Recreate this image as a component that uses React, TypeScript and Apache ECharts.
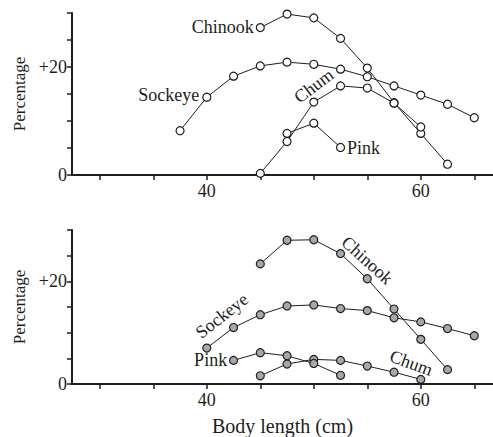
import React, { useEffect, useRef } from 'react';
import * as echarts from 'echarts';

// ---- Upper panel data (open circles) ----
const upChinookX = [45, 47.5, 50, 52.5, 55, 57.5, 60, 62.5];
const upChinookY = [27.3, 29.8, 29.1, 25.3, 19.8, 13.4, 7.7, 2.0];
const upSockeyeX = [37.5, 40, 42.5, 45, 47.5, 50, 52.5, 55, 57.5, 60, 62.5, 65];
const upSockeyeY = [8.2, 14.4, 18.3, 20.2, 20.9, 20.5, 19.6, 18.2, 16.5, 14.8, 13.1, 10.6];
const upChumX = [45, 47.5, 50, 52.5, 55, 57.5, 60];
const upChumY = [0.3, 6.2, 13.5, 16.5, 16.1, 13.3, 8.9];
const upPinkX = [47.5, 50, 52.5];
const upPinkY = [7.7, 9.6, 5.1];

// ---- Lower panel data (shaded circles) ----
const loChinookX = [45, 47.5, 50, 52.5, 55, 57.5, 60, 62.5];
const loChinookY = [23.4, 28.0, 28.1, 25.4, 20.5, 14.6, 8.7, 2.8];
const loSockeyeX = [40, 42.5, 45, 47.5, 50, 52.5, 55, 57.5, 60, 62.5, 65];
const loSockeyeY = [7.0, 11.0, 13.5, 15.2, 15.4, 14.7, 14.3, 12.9, 12.1, 10.8, 9.4];
const loPinkX = [42.5, 45, 47.5, 50, 52.5];
const loPinkY = [4.6, 6.1, 5.5, 4.0, 1.7];
const loChumX = [45, 47.5, 50, 52.5, 55, 57.5, 60];
const loChumY = [1.6, 3.9, 4.8, 4.6, 3.5, 2.3, 0.9];

// ---- Axes ----
const xTickValues = [30, 35, 40, 45, 50, 55, 60, 65];
const xLabelValues = [40, 60];
const yTickValues = [0, 5, 10, 15, 20, 25, 30];
const yLabelValues = [0, 20];
const yLabelText = ['0', '+20'];

// ---- Annotations: [x, y, text, rotate, align] ----
const upNotes: [number, number, string, number, string][] = [
  [44.4, 27.4, 'Chinook', 0, 'right'],
  [39.3, 14.8, 'Sockeye', 0, 'right'],
  [50.0, 16.5, 'Chum', 37, 'center'],
  [53.1, 5.0, 'Pink', 0, 'left'],
];
const loNotes: [number, number, string, number, string][] = [
  [55.0, 24.1, 'Chinook', -42, 'center'],
  [41.4, 13.3, 'Sockeye', 38, 'center'],
  [41.9, 4.6, 'Pink', 0, 'right'],
  [59.1, 4.1, 'Chum', -20, 'center'],
];

const FONT = '"Liberation Serif", "DejaVu Serif", serif';
const INK = '#1e1e1e';

const zip = (xs: number[], ys: number[]) => xs.map((x, i) => [x, ys[i]]);

function lineSeries(name: string, xs: number[], ys: number[], idx: number, fill: string) {
  return {
    name,
    type: 'line',
    xAxisIndex: idx,
    yAxisIndex: idx,
    data: zip(xs, ys),
    symbol: 'circle',
    symbolSize: 8,
    lineStyle: { color: INK, width: 1 },
    itemStyle: { color: fill, borderColor: INK, borderWidth: 1.2 },
    z: 3,
  };
}

function noteSeries(notes: [number, number, string, number, string][], idx: number) {
  return {
    type: 'scatter',
    xAxisIndex: idx,
    yAxisIndex: idx,
    symbolSize: 0,
    silent: true,
    z: 5,
    itemStyle: { color: INK, opacity: 1 },
    data: notes.map((n) => ({
      value: [n[0], n[1]],
      label: {
        show: true,
        formatter: n[2],
        position: 'inside',
        align: n[4],
        verticalAlign: 'middle',
        rotate: n[3],
        fontFamily: FONT,
        fontSize: 18,
        color: INK,
        opacity: 1,
        textBorderWidth: 0,
        textBorderColor: 'transparent',
        textShadowBlur: 0,
      },
    })),
  };
}

function xAxis(idx: number, margin: number, name: string) {
  return {
    type: 'value',
    gridIndex: idx,
    min: 27.4,
    max: 66.75,
    name,
    nameLocation: 'middle',
    nameGap: 32,
    nameTextStyle: { fontFamily: FONT, fontSize: 20, color: INK },
    axisLine: { show: true, onZero: false, lineStyle: { color: INK, width: 2 } },
    axisTick: { show: true, inside: false, length: 5, customValues: xTickValues, lineStyle: { color: INK, width: 1.5 } },
    axisLabel: { show: true, customValues: xLabelValues, margin, fontFamily: FONT, fontSize: 18, color: INK },
    splitLine: { show: false },
  };
}

function yAxis(idx: number) {
  return {
    type: 'value',
    gridIndex: idx,
    min: 0,
    max: 30,
    name: 'Percentage',
    nameLocation: 'middle',
    nameRotate: 90,
    nameGap: 44,
    nameTextStyle: { fontFamily: FONT, fontSize: 17, color: INK },
    axisLine: { show: true, lineStyle: { color: INK, width: 2 } },
    axisTick: { show: true, inside: false, length: 5, customValues: yTickValues, lineStyle: { color: INK, width: 1.5 } },
    axisLabel: {
      show: true,
      customValues: yLabelValues,
      margin: 5,
      fontFamily: FONT,
      fontSize: 18,
      color: INK,
      formatter: (v: number) => yLabelText[yLabelValues.indexOf(v)] ?? '',
    },
    splitLine: { show: false },
  };
}

export default function App() {
  const ref = useRef<HTMLDivElement>(null);
  useEffect(() => {
    if (!ref.current) return;
    const chart = echarts.init(ref.current, undefined, { renderer: 'svg' });
    chart.setOption({
      animation: false,
      backgroundColor: '#ffffff',
      grid: [
        { left: 72, right: 0, top: 13, height: 162 },
        { left: 72, right: 0, top: 230, height: 162 },
      ],
      xAxis: [xAxis(0, 7, ''), xAxis(1, 7, 'Body length (cm)')],
      yAxis: [yAxis(0), yAxis(1)],
      series: [
        lineSeries('Chinook', upChinookX, upChinookY, 0, '#ffffff'),
        lineSeries('Sockeye', upSockeyeX, upSockeyeY, 0, '#ffffff'),
        lineSeries('Chum', upChumX, upChumY, 0, '#ffffff'),
        lineSeries('Pink', upPinkX, upPinkY, 0, '#ffffff'),
        lineSeries('Chinook', loChinookX, loChinookY, 1, '#a8a8a8'),
        lineSeries('Sockeye', loSockeyeX, loSockeyeY, 1, '#a8a8a8'),
        lineSeries('Chum', loChumX, loChumY, 1, '#a8a8a8'),
        lineSeries('Pink', loPinkX, loPinkY, 1, '#a8a8a8'),
        noteSeries(upNotes, 0),
        noteSeries(loNotes, 1),
      ],
    });
    return () => chart.dispose();
  }, []);
  return (
    <div
      ref={ref}
      style={{ position: 'absolute', left: 0, top: 0, width: 493, height: 437, background: '#fff' }}
    />
  );
}
